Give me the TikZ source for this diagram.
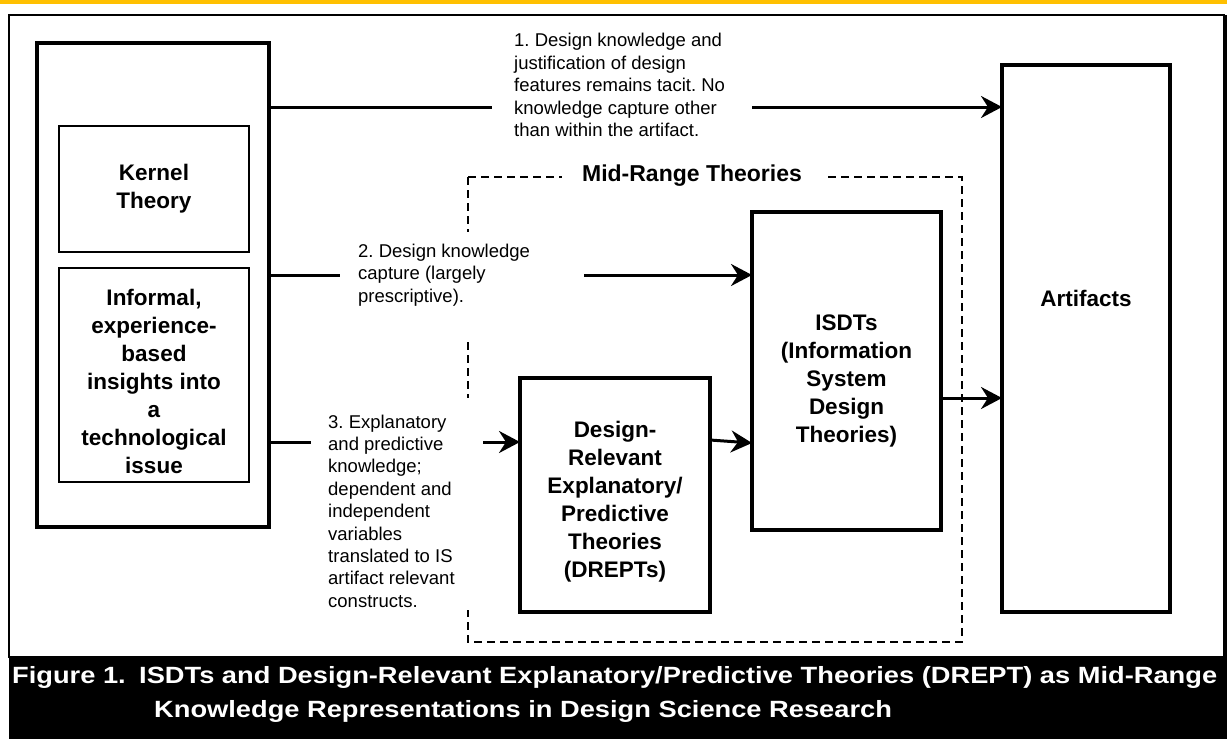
\documentclass[tikz,border=0pt]{standalone}
\usepackage{fontspec}
\setmainfont{Liberation Sans}
\newfontfamily\capfont[FakeStretch=1.16]{Liberation Sans}
\usetikzlibrary{arrows.meta}

\definecolor{rulegold}{RGB}{255,192,0}

\begin{document}
\frenchspacing
\begin{tikzpicture}[x=1pt,y=-1pt,
  box/.style={draw, line width=3.2pt, inner sep=0pt, outer sep=0pt},
  thinbox/.style={draw, line width=2pt, inner sep=0pt, outer sep=0pt},
  boxtext/.style={font=\fontsize{22.5}{28}\selectfont\bfseries, align=center, inner sep=0pt},
  note/.style={font=\fontsize{18.5}{22.4}\selectfont, align=left, inner sep=0pt, anchor=west},
  seg/.style={line width=3pt},
  arr/.style={line width=3pt, -{Stealth[length=21pt,width=22pt,inset=7pt]}},
  dashline/.style={line width=2pt, dash pattern=on 8pt off 5pt},
  captext/.style={font=\fontsize{23.5}{34}\capfont\bfseries, text=white, inner sep=0pt, anchor=base west},
]
\useasboundingbox (0,0) rectangle (1227,739);

% page rule, frame and caption bar
\fill[rulegold] (0,0) rectangle (1227,4);
\draw[line width=1.2pt] (9,15) rectangle (1224,657);
\fill (1223,15) rectangle (1227,657);
\fill (9,657) rectangle (1227,739);

% source of knowledge
\node[box, minimum width=232pt, minimum height=484pt] (src) at (153,285) {};
\node[box, line width=2.6pt, minimum width=190pt, minimum height=126pt] (kernel) at (154,189) {};
\node[boxtext] (kerneltxt) at (154,189) {Kernel\\Theory};
\node[thinbox, minimum width=190pt, minimum height=214pt] (informal) at (154,375) {};
\node[boxtext] (informaltxt) at (154,381) {Informal,\\experience-\\based\\insights into\\a\\technological\\issue};

% artifacts
\node[box, minimum width=168pt, minimum height=547pt] (artifacts) at (1086,338.5) {};
\node[boxtext] (arttxt) at (1086,298) {Artifacts};

% mid-range theories
\node[box, minimum width=189pt, minimum height=318pt] (isdt) at (846.5,371) {};
\node[boxtext] (isdttxt) at (846.5,381) {ISDTs\\(Information\\System\\Design\\Theories)};
\node[box, minimum width=190pt, minimum height=234pt] (drept) at (615,495) {};
\node[boxtext] (drepttxt) at (615,502) {Design-\\Relevant\\Explanatory/\\Predictive\\Theories\\(DREPTs)};

% dashed grouping
\node[font=\fontsize{23}{28}\selectfont\bfseries, inner sep=0pt] (midtitle) at (692,176) {Mid-Range Theories};
\coordinate (mtl) at (468,177);
\coordinate (mtr) at (962,177);
\coordinate (mbr) at (962,642);
\coordinate (mbl) at (468,642);
\draw[dashline] (mtl) -- ([xshift=-20pt]midtitle.west |- mtl);
\draw[dashline] ([xshift=26pt]midtitle.east |- mtr) -- (mtr) -- (mbr) -- (mbl) -- (468,610);
\draw[dashline] (mtl) -- (468,232);
\draw[dashline] (468,342) -- (468,398);

% notes on the paths
\node[note] (n1) at (514,85) {1. Design knowledge and\\justification of design\\features remains tacit. No\\knowledge capture other\\than within the artifact.};
\node[note] (n2) at (358,275) {2. Design knowledge\\capture (largely\\prescriptive).};
\node[note] (n3) at (328,511) {3. Explanatory\\and predictive\\knowledge;\\dependent and\\independent\\variables\\translated to IS\\artifact relevant\\constructs.};

% path 1
\coordinate (p1a) at (492,107);
\coordinate (p1b) at (752,107);
\draw[seg] (src.east |- p1a) -- (p1a);
\draw[arr] (p1b) -- (artifacts.west |- p1b);
% path 2
\coordinate (p2a) at (340,275);
\coordinate (p2b) at (584,275);
\draw[seg] (src.east |- p2a) -- (p2a);
\draw[arr] (p2b) -- (isdt.west |- p2b);
% path 3
\coordinate (p3a) at (311,442);
\coordinate (p3b) at (483,442);
\draw[seg] (src.east |- p3a) -- (p3a);
\draw[arr] (p3b) -- (drept.west |- p3b);
% between theories and artifacts
\draw[arr] (drept.east |- 0,440) -- (isdt.west |- 0,443);
\draw[arr] (isdt.east |- 0,398) -- (artifacts.west |- 0,398);

% caption
\node[captext] (capnum) at (12,683) {Figure 1.};
\node[captext] (cap1) at (139,683) {ISDTs and Design-Relevant Explanatory/Predictive Theories (DREPT) as Mid-Range};
\node[captext] (cap2) at (154,717) {Knowledge Representations in Design Science Research};
\end{tikzpicture}
\end{document}
